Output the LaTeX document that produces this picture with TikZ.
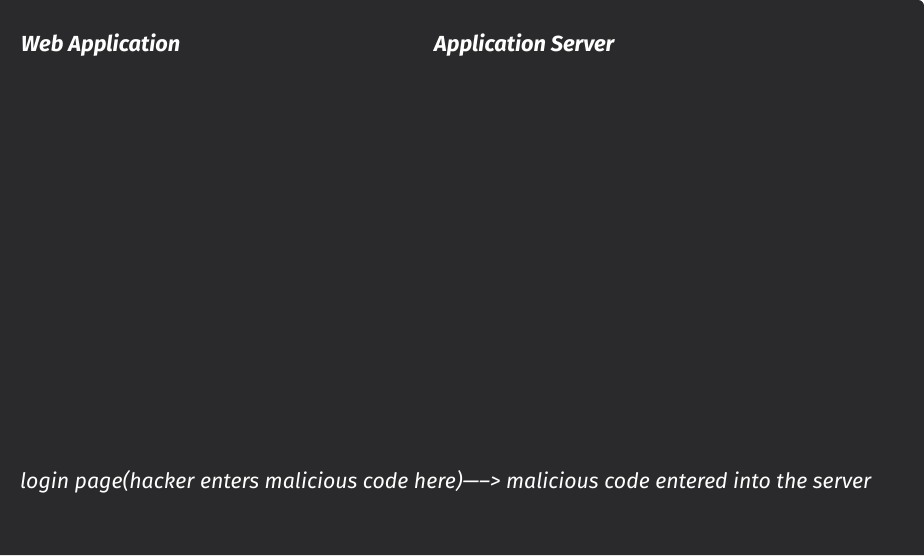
\documentclass[tikz,border=0pt]{standalone}
\usepackage{fontspec}
\setmainfont{Fira Sans}
\definecolor{panelgrey}{HTML}{2A2A2C}
\tikzset{
  title/.style={anchor=base west,inner sep=0pt,text=white,font=\bfseries\itshape\fontsize{21.8}{24}\selectfont},
  caption/.style={anchor=base west,inner sep=0pt,text=white,font=\itshape\fontsize{21.3}{24}\selectfont}
}

\begin{document}
\begin{tikzpicture}[x=1pt,y=1pt]
\fill[panelgrey] (0,0) -- (0,555) -- (918,555) arc[start angle=90,end angle=0,radius=6] -- (924,0) -- cycle;
\useasboundingbox (0,0) rectangle (924,555);
\node[title] (webapp) at (21,503) {Web Application};
\node[title] (appserver) at (434,503) {Application Server};
\node[caption] (flow) at (20,67) {login page(hacker enters malicious code here)—–> malicious code entered into the server};
\end{tikzpicture}
\end{document}
